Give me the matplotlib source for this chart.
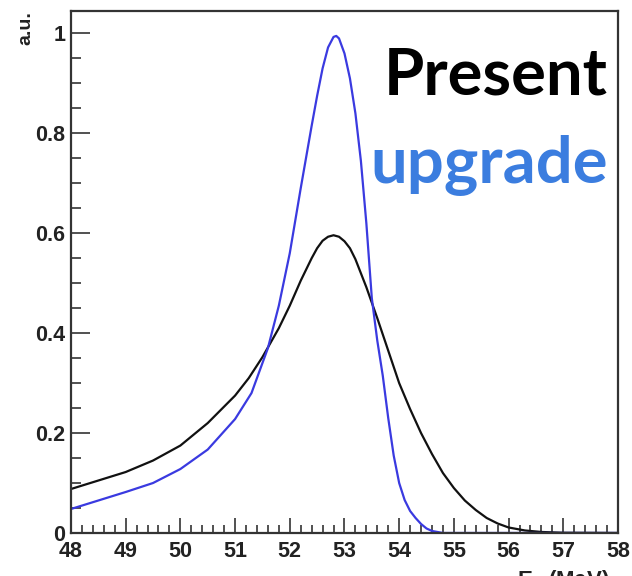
import numpy as np
import matplotlib
matplotlib.use("Agg")
import matplotlib.pyplot as plt
from matplotlib.ticker import MultipleLocator
from matplotlib.font_manager import FontProperties

# energy points (MeV) and curve heights
e_present = [48.0, 48.5, 49.0, 49.5, 50.0, 50.5, 51.0, 51.25, 51.5, 51.8, 52.0, 52.2,
             52.4, 52.5, 52.6, 52.7, 52.8, 52.9, 53.0, 53.1, 53.2, 53.4, 53.6, 53.8,
             54.0, 54.2, 54.4, 54.6, 54.8, 55.0, 55.2, 55.4, 55.6, 55.8, 56.0, 56.3,
             56.6, 57.0, 58.0]
y_present = [0.088, 0.105, 0.122, 0.145, 0.175, 0.220, 0.275, 0.310, 0.352, 0.41, 0.455, 0.505,
             0.550, 0.570, 0.585, 0.593, 0.596, 0.593, 0.584, 0.570, 0.548, 0.492, 0.430, 0.365,
             0.300, 0.248, 0.200, 0.158, 0.120, 0.090, 0.065, 0.046, 0.030, 0.019, 0.011, 0.005,
             0.002, 0.0005, 0.0]

e_upgrade = [48.0, 48.5, 49.0, 49.5, 50.0, 50.5, 51.0, 51.3, 51.6, 51.8, 52.0, 52.2,
             52.4, 52.5, 52.6, 52.7, 52.8, 52.85, 52.9, 53.0, 53.1, 53.2, 53.3, 53.4,
             53.5, 53.6, 53.7, 53.8, 53.9, 54.0, 54.1, 54.2, 54.3, 54.4, 54.5, 54.6,
             54.8, 58.0]
y_upgrade = [0.048, 0.065, 0.082, 0.100, 0.128, 0.167, 0.228, 0.280, 0.370, 0.455, 0.560, 0.690,
             0.815, 0.875, 0.930, 0.972, 0.993, 0.995, 0.990, 0.960, 0.910, 0.840, 0.745, 0.620,
             0.470, 0.385, 0.315, 0.230, 0.155, 0.100, 0.066, 0.044, 0.030, 0.018, 0.009, 0.004,
             0.0, 0.0]

labels = ["Present", "upgrade"]

fig = plt.figure(figsize=(6.32, 5.76), dpi=100)
ax = fig.add_axes([0.1123, 0.0747, 0.8655, 0.9063])

ax.plot(e_present, y_present, color="#111111", lw=1.6)
ax.plot(e_upgrade, y_upgrade, color="#3a3ae0", lw=1.6)

ax.set_xlim(48, 58)
ax.set_ylim(0, 1.045)
ax.xaxis.set_major_locator(MultipleLocator(1))
ax.xaxis.set_minor_locator(MultipleLocator(0.2))
ax.yaxis.set_minor_locator(MultipleLocator(0.05))
ax.set_yticks([0, 0.2, 0.4, 0.6, 0.8, 1.0])
ax.set_yticklabels(["0", "0.2", "0.4", "0.6", "0.8", "1"])

tick_font = FontProperties(family="Liberation Sans", weight="bold", size=15.5)
for lab in ax.get_xticklabels() + ax.get_yticklabels():
    lab.set_fontproperties(tick_font)
    lab.set_color("#222222")

ax.tick_params(which="both", direction="in", top=False, right=False, width=1.2, color="#333333")
ax.tick_params(axis="x", which="major", length=11, pad=6)
ax.tick_params(axis="x", which="minor", length=6)
ax.tick_params(axis="y", which="major", length=14, pad=4)
ax.tick_params(axis="y", which="minor", length=7)
for s in ax.spines.values():
    s.set_linewidth(1.6)
    s.set_color("#333333")

ax.text(0.982, 0.839, labels[0], transform=ax.transAxes, ha="right", va="baseline",
        fontsize=47, family="Lato", weight="bold", color="black")
ax.text(0.982, 0.6705, labels[1], transform=ax.transAxes, ha="right", va="baseline",
        fontsize=47, family="Lato", weight="bold", color="#3b7ddf")

fig.text(0.041, 0.981, "a.u.", rotation=90, ha="center", va="top",
         family="Liberation Sans", weight="bold", size=14, color="#222222")
fig.text(0.965, 0.013, r"E$_\gamma$ (MeV)", ha="right", va="top",
         family="Liberation Sans", weight="bold", size=16, color="#222222")

fig.savefig("out.png", dpi=100)
